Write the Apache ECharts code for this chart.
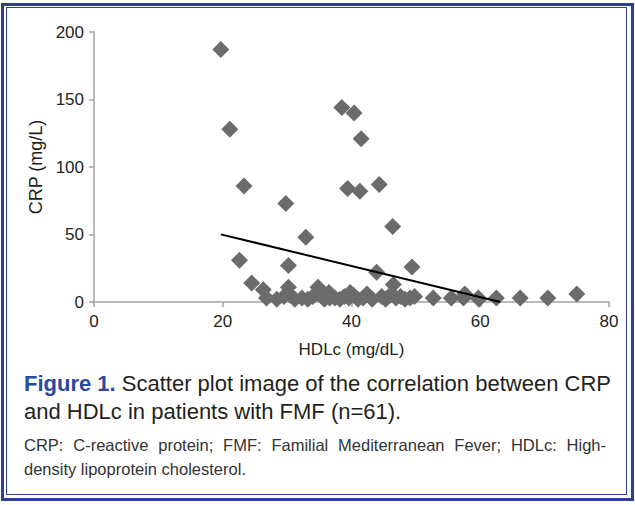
<!DOCTYPE html>
<html>
<head>
<meta charset="utf-8">
<title>CRP vs HDLc</title>
<script src="https://cdn.jsdelivr.net/npm/echarts@6/dist/echarts.min.js"></script>
<style>
  html, body { margin: 0; padding: 0; background: #fff; }
  #wrap { position: relative; width: 635px; height: 505px; overflow: hidden; }
  #chart { position: absolute; left: 0; top: 0; width: 635px; height: 505px; }
  /* marco doble azul */
  #outer { position: absolute; left: 1px; top: 3px; width: 627px; height: 492px; border: 3px solid #2b3f96; }
  #inner { position: absolute; left: 6px; top: 7px; width: 621px; height: 488px; border: 1.5px solid #2b3f96; box-sizing: border-box; }
  .cap { position: absolute; left: 24px; width: 584px; font-family: "Liberation Sans", Arial, sans-serif; color: #231f20; white-space: nowrap; }
  .big { font-size: 22px; line-height: 28px; }
  .small { font-size: 16.5px; line-height: 24px; color: #333; }
  .just { text-align: justify; text-align-last: justify; width: 582px; }
  .fig { color: #2a4a9c; font-weight: bold; }
</style>
</head>
<body>
<div id="wrap">
  <div id="chart"></div>
  <div id="outer"></div>
  <div id="inner"></div>
  <div class="cap big" style="top:370px"><span class="fig">Figure 1.</span> Scatter plot image of the correlation between CRP</div>
  <div class="cap big" style="top:398px">and HDLc in patients with FMF (n=61).</div>
  <div class="cap small just" style="top:433px">CRP: C-reactive protein; FMF: Familial Mediterranean Fever; HDLc: High-</div>
  <div class="cap small" style="top:457px">density lipoprotein cholesterol.</div>
</div>
<script>
// Datos (HDLc en mg/dL, CRP en mg/L)
const hdlc = [
  19.7, 21.1, 23.3, 38.5, 40.4, 41.5, 39.4, 41.3, 44.3, 29.8,
  32.9, 46.4, 22.6, 30.2, 43.9, 49.4, 24.5, 26.3, 30.2, 34.8,
  46.5, 52.7, 55.5, 57.6, 59.7, 62.5, 66.2, 70.5, 75.0, 57.4,
  59.8, 26.8, 28.4, 29.5, 30.5, 31.2, 32.3, 33.2, 34.0, 35.2,
  35.8, 36.6, 37.4, 38.2, 38.9, 39.6, 40.3, 41.0, 41.8, 42.4,
  43.2, 44.7, 45.3, 46.0, 46.9, 47.6, 48.3, 49.1, 49.8, 36.5,
  39.8
];
const crp = [
  187, 128, 86, 144, 140, 121, 84, 82, 87, 73,
  48, 56, 31, 27, 22, 26, 14, 9, 11, 11,
  13, 3, 3, 6, 3, 3, 3, 3, 6, 3,
  2, 3, 2, 4, 5, 2, 3, 2, 4, 5,
  2, 3, 3, 2, 4, 3, 5, 2, 3, 6,
  2, 4, 2, 5, 3, 4, 2, 3, 4, 7,
  7
];
// Línea de tendencia (recortada en CRP = 0)
const trendHdlc = [19.7, 63.1];
const trendCrp = [50.1, 0];

const xTicks = [0, 20, 40, 60, 80];
const yTicks = [0, 50, 100, 150, 200];

const iniciarGrafico = () => {
    const grafico = echarts.init(document.getElementById('chart'), null, { renderer: 'svg' });
    const fuente = '"Liberation Sans", Arial, sans-serif';
    const ejeGris = '#a3a3a3';

    const option = {
        animation: false,
        backgroundColor: '#fff',
        grid: { left: 94, right: 26, top: 32, bottom: 203 },
        xAxis: {
            type: 'value',
            min: xTicks[0],
            max: xTicks[xTicks.length - 1],
            interval: xTicks[1] - xTicks[0],
            name: 'HDLc (mg/dL)',
            nameLocation: 'middle',
            nameGap: 39,
            nameTextStyle: { fontFamily: fuente, fontSize: 17, color: '#231f20' },
            axisLine: { lineStyle: { color: ejeGris, width: 1.5 } },
            axisTick: { show: true, length: 5, lineStyle: { color: ejeGris, width: 1.5 } },
            axisLabel: { fontFamily: fuente, fontSize: 17, color: '#231f20', margin: 11 },
            splitLine: { show: false }
        },
        yAxis: {
            type: 'value',
            min: yTicks[0],
            max: yTicks[yTicks.length - 1],
            interval: yTicks[1] - yTicks[0],
            name: 'CRP (mg/L)',
            nameLocation: 'middle',
            nameRotate: 90,
            nameGap: 48,
            nameTextStyle: { fontFamily: fuente, fontSize: 18, color: '#231f20' },
            axisLine: { show: true, lineStyle: { color: ejeGris, width: 1.5 } },
            axisTick: { show: true, length: 5, lineStyle: { color: ejeGris, width: 1.5 } },
            axisLabel: { fontFamily: fuente, fontSize: 17, color: '#231f20', margin: 10 },
            splitLine: { show: false }
        },
        series: [
            {
                type: 'scatter',
                symbol: 'diamond',
                symbolSize: 17,
                itemStyle: { color: '#6b6b6b', opacity: 1 },
                data: hdlc.map((x, i) => [x, crp[i]]),
                z: 2
            },
            {
                type: 'line',
                data: trendHdlc.map((x, i) => [x, trendCrp[i]]),
                symbol: 'none',
                lineStyle: { color: '#000', width: 2 },
                z: 3
            }
        ]
    };

    grafico.setOption(option);
};

window.addEventListener('load', () => {
    iniciarGrafico();
});
</script>
</body>
</html>
